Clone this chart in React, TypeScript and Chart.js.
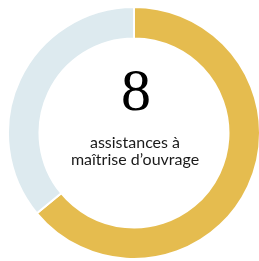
import React, { useEffect, useRef } from "react";
import { Chart, registerables } from "chart.js";

Chart.register(...registerables);

const labels = ["Réalisées", "Autres"];
const values = [64, 36];
const colors = ["#E5BC4F", "#DDEAEF"];
const bigNumber = "8";
const captionLines = ["assistances à", "maîtrise d’ouvrage"];

export default function App() {
  const ref = useRef<HTMLCanvasElement | null>(null);
  useEffect(() => {
    if (!ref.current) return;
    const chart = new Chart(ref.current, {
      type: "doughnut",
      data: {
        labels,
        datasets: [
          {
            data: values,
            backgroundColor: colors,
            borderColor: "#ffffff",
            borderWidth: 2,
          },
        ],
      },
      options: {
        animation: false,
        responsive: false,
        maintainAspectRatio: false,
        cutout: "75%",
        rotation: 0,
        layout: { padding: 0 },
        plugins: {
          legend: { display: false },
          tooltip: { enabled: false },
        },
      },
    });
    return () => chart.destroy();
  }, []);

  return (
    <div
      style={{
        position: "fixed",
        left: 0,
        top: 0,
        width: 259,
        height: 261,
        overflow: "hidden",
        background: "#ffffff",
      }}
    >
      <canvas
        ref={ref}
        width={254}
        height={254}
        style={{ position: "absolute", left: 7, top: 6, width: 254, height: 254 }}
      />
      <div
        style={{
          position: "absolute",
          left: 36,
          width: 200,
          top: 60,
          textAlign: "center",
          fontFamily: '"Liberation Serif", serif',
          fontSize: 60,
          lineHeight: "60px",
          color: "#000",
        }}
      >
        {bigNumber}
      </div>
      <div
        style={{
          position: "absolute",
          left: 35,
          width: 200,
          top: 133,
          textAlign: "center",
          fontFamily: "Lato, sans-serif",
          fontSize: 16,
          lineHeight: "17px",
          color: "#1a1a1a",
        }}
      >
        {captionLines.map((l, i) => (
          <div key={i}>{l}</div>
        ))}
      </div>
    </div>
  );
}
